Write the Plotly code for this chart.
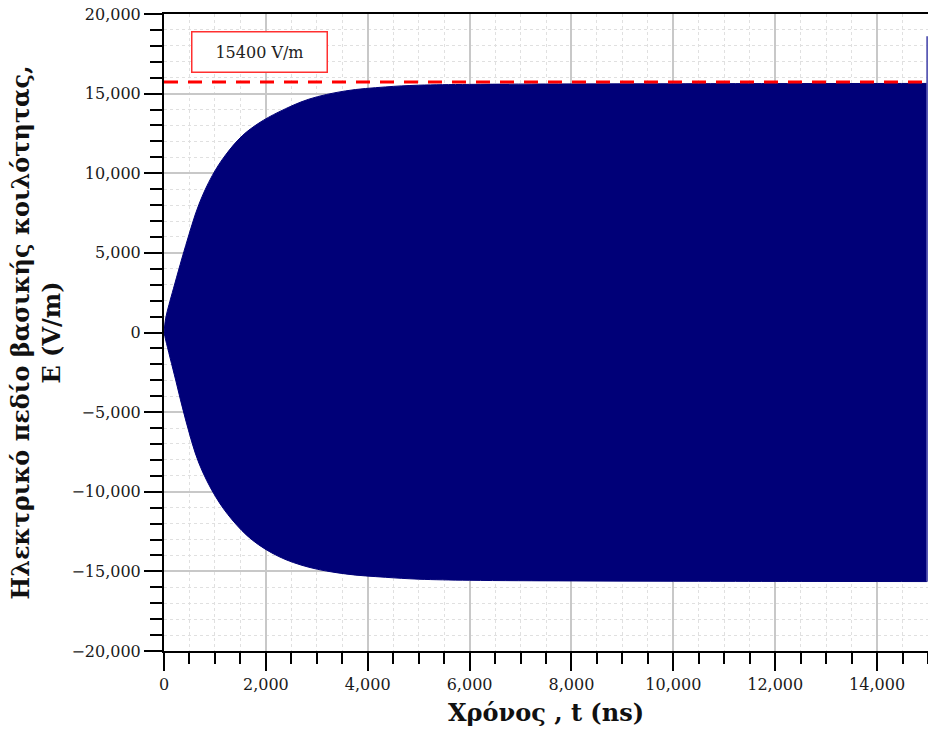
import plotly.graph_objects as go

# Envelope of the electric field
t_upper = [0, 33, 98, 163, 425, 686, 947, 1209, 1535, 1863, 2255, 2843, 3562, 4346, 5000, 6000, 8000, 10000, 12000, 14985]
e_upper = [0, 900, 1750, 2500, 5450, 8050, 9850, 11150, 12350, 13150, 13850, 14650, 15170, 15420, 15530, 15580, 15610, 15620, 15630, 15640]
t_lower = [0, 33, 229, 425, 686, 1013, 1340, 1732, 2255, 2843, 3562, 4346, 5000, 6000, 8000, 10000, 12000, 14985]
e_lower = [0, -470, -2980, -5490, -8210, -10310, -11770, -13030, -14070, -14740, -15160, -15370, -15490, -15560, -15600, -15620, -15630, -15640]

# Final spike at the end of the record
spike_t = [14985, 14985]
spike_e = [-15640, 18600]

ref_level = 15730
ref_label = "15400 V/m"

x_ticks = [0, 2000, 4000, 6000, 8000, 10000, 12000, 14000]
y_ticks = [-20000, -15000, -10000, -5000, 0, 5000, 10000, 15000, 20000]

font_family = "DejaVu Serif"

fig = go.Figure()
fig.add_trace(go.Scatter(
    x=t_upper, y=e_upper, mode="lines",
    line=dict(color="#000078", width=1, shape="spline", smoothing=1.0),
    hoverinfo="skip", showlegend=False))
fig.add_trace(go.Scatter(
    x=t_lower, y=e_lower, mode="lines", fill="tonexty", fillcolor="#000078",
    line=dict(color="#000078", width=1, shape="spline", smoothing=1.0),
    hoverinfo="skip", showlegend=False))
fig.add_trace(go.Scatter(
    x=spike_t, y=spike_e, mode="lines",
    line=dict(color="#5a5ab4", width=2), showlegend=False))
fig.add_trace(go.Scatter(
    x=[0, 15000], y=[ref_level, ref_level], mode="lines",
    line=dict(color="#ff0000", width=3, dash="14px,10px"), showlegend=False))

fig.add_annotation(x=1870, y=17610, xref="x", yref="y", text=ref_label,
                   showarrow=False, font=dict(family=font_family, size=16, color="#222"),
                   bordercolor="#ff3030", borderwidth=1.5, borderpad=10,
                   bgcolor="white", width=114)

axis_common = dict(
    showline=True, linecolor="black", linewidth=2, mirror=True,
    ticks="outside", ticklen=18, tickwidth=2, tickcolor="black",
    showgrid=True, gridcolor="#c8c8c8", gridwidth=1.5, zeroline=False,
    tickfont=dict(family=font_family, size=16, color="#1a1a1a"),
    tickformat=",",
)

fig.update_xaxes(**axis_common, range=[0, 15000], tickvals=x_ticks,
                 minor=dict(dtick=500, ticklen=11, tickwidth=2, tickcolor="black",
                            ticks="outside", showgrid=True, gridcolor="#e0e0e0",
                            griddash="dot", gridwidth=1),
                 title=dict(text="Χρόνος , t (ns)", standoff=11,
                            font=dict(family=font_family, size=24, color="#111", weight="bold")))
fig.update_yaxes(**axis_common, range=[-20000, 20000], tickvals=y_ticks,
                 minor=dict(dtick=1000, ticklen=12, tickwidth=2, tickcolor="black",
                            ticks="outside", showgrid=True, gridcolor="#e0e0e0",
                            griddash="dot", gridwidth=1),
                 title=dict(text="Ηλεκτρικό πεδίο βασικής κοιλότητας,<br>E (V/m)", standoff=4,
                            font=dict(family=font_family, size=24, color="#111", weight="bold")))

fig.update_layout(
    width=928, height=733,
    margin=dict(l=164, r=0, t=14, b=82, autoexpand=False),
    plot_bgcolor="white", paper_bgcolor="white",
    showlegend=False,
)

fig.write_html("out.html")
